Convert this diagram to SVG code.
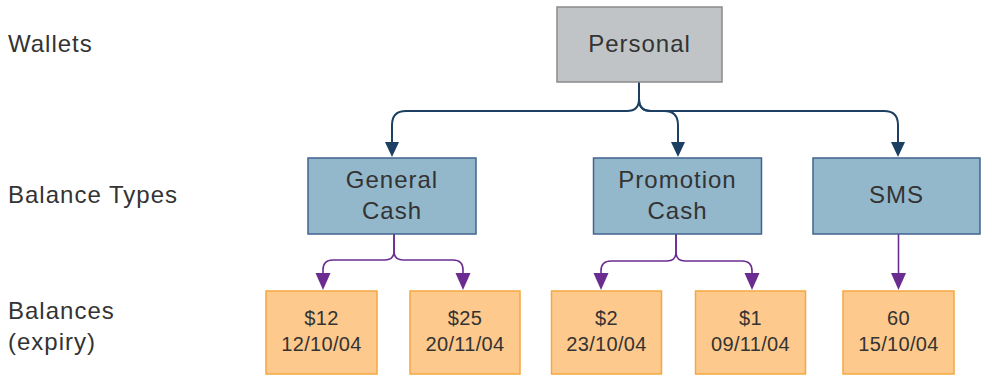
<svg xmlns="http://www.w3.org/2000/svg" width="983" height="376" viewBox="0 0 983 376">
<style>
text{font-family:"Liberation Sans",Arial,sans-serif;fill:#333;}
.lbl{font-size:24px;letter-spacing:1px;}
.bx{font-size:24px;letter-spacing:1px;text-anchor:middle;}
.bal{font-size:20px;letter-spacing:0.3px;text-anchor:middle;}
.wallet{fill:#c0c4c7;stroke:#8a8a8a;stroke-width:1.5;}
.btype{fill:#93b7cb;stroke:#40648f;stroke-width:1.5;}
.balance{fill:#fdc98c;stroke:#f5a840;stroke-width:1.5;}
.cb{fill:none;stroke:#1c3f63;stroke-width:2;}
.cp{fill:none;stroke:#6b2c91;stroke-width:1.6;}
</style>
<defs>
<marker id="ab" viewBox="0 0 14 15" refX="7" refY="15" markerWidth="14" markerHeight="15" markerUnits="userSpaceOnUse" orient="auto-start-reverse">
<path d="M0,0 L14,0 L7,15 Z" fill="#1c3f63"/>
</marker>
<marker id="ap" viewBox="0 0 15 17" refX="7.5" refY="17" markerWidth="15" markerHeight="17" markerUnits="userSpaceOnUse">
<path d="M0,0 L15,0 L7.5,17 Z" fill="#6b2c91"/>
</marker>
</defs>

<g id="labels">
<text class="lbl" x="8" y="52">Wallets</text>
<text class="lbl" x="8" y="203">Balance Types</text>
<text class="lbl" x="8" y="319">Balances</text>
<text class="lbl" x="8" y="350">(expiry)</text>
</g>

<g id="connectors">
<path class="cb" d="M639,82 V99 Q639,111 627,111 H406 Q392,111 392,125 V142" />
<path class="cb" d="M639,82 V99 Q639,111 651,111 H664 Q678,111 678,125 V142" />
<path class="cb" d="M639,82 V99 Q639,111 651,111 H884 Q898,111 898,125 V142" />
<path d="M385,142 L399,142 L392,157 Z" fill="#1c3f63"/>
<path d="M671,142 L685,142 L678,157 Z" fill="#1c3f63"/>
<path d="M891,142 L905,142 L898,157 Z" fill="#1c3f63"/>

<path class="cp" d="M394,234 V251 Q394,260 385,260 H333 Q323,260 323,270 V274" />
<path class="cp" d="M394,234 V251 Q394,260 403,260 H453 Q463,260 463,270 V274" />
<path class="cp" d="M676,234 V252 Q676,261 667,261 H611 Q601,261 601,271 V274" />
<path class="cp" d="M676,234 V252 Q676,261 685,261 H742 Q752,261 752,271 V274" />
<path class="cp" d="M898.5,234 V274" stroke="#9c6cc0"/>
<path d="M315.5,273 L330.5,273 L323,290 Z" fill="#6b2c91"/>
<path d="M455.5,273 L470.5,273 L463,290 Z" fill="#6b2c91"/>
<path d="M593.5,273 L608.5,273 L601,290 Z" fill="#6b2c91"/>
<path d="M744.5,273 L759.5,273 L752,290 Z" fill="#6b2c91"/>
<path d="M891,273 L906,273 L898.5,290 Z" fill="#6b2c91"/>
</g>

<g id="personal">
<rect class="wallet" x="557" y="7" width="165" height="75"/>
<text class="bx" x="639.5" y="52">Personal</text>
</g>

<g id="general-cash">
<rect class="btype" x="308" y="158" width="168" height="76"/>
<text class="bx" x="392" y="188">General</text>
<text class="bx" x="392" y="219">Cash</text>
</g>

<g id="promotion-cash">
<rect class="btype" x="593.5" y="158" width="168" height="76"/>
<text class="bx" x="677.5" y="188">Promotion</text>
<text class="bx" x="677.5" y="219">Cash</text>
</g>

<g id="sms">
<rect class="btype" x="813" y="158" width="167" height="76"/>
<text class="bx" x="896.5" y="203">SMS</text>
</g>

<g id="bal-12">
<rect class="balance" x="266" y="291" width="111" height="83"/>
<text class="bal" x="321.5" y="325">$12</text>
<text class="bal" x="321.5" y="351">12/10/04</text>
</g>

<g id="bal-25">
<rect class="balance" x="410" y="291" width="110" height="83"/>
<text class="bal" x="465" y="325">$25</text>
<text class="bal" x="465" y="351">20/11/04</text>
</g>

<g id="bal-2">
<rect class="balance" x="551.5" y="291" width="110" height="83"/>
<text class="bal" x="606.5" y="325">$2</text>
<text class="bal" x="606.5" y="351">23/10/04</text>
</g>

<g id="bal-1">
<rect class="balance" x="695.5" y="291" width="110" height="83"/>
<text class="bal" x="750.5" y="325">$1</text>
<text class="bal" x="750.5" y="351">09/11/04</text>
</g>

<g id="bal-60">
<rect class="balance" x="843" y="291" width="111" height="83"/>
<text class="bal" x="898.5" y="325">60</text>
<text class="bal" x="898.5" y="351">15/10/04</text>
</g>
</svg>
